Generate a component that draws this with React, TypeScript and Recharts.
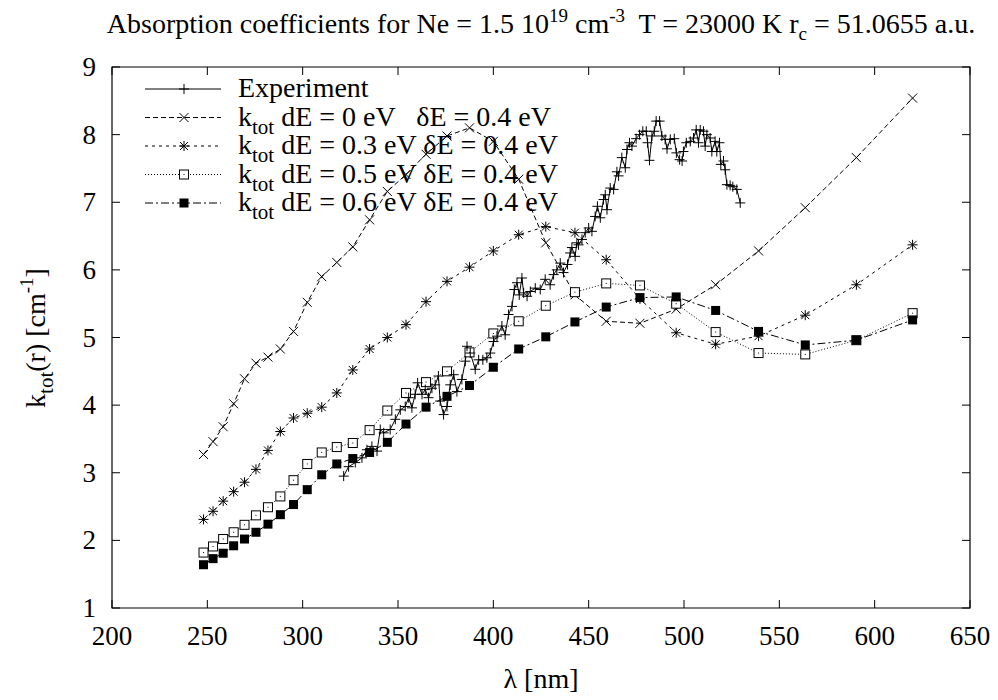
import { LineChart, Line, XAxis, YAxis, ReferenceArea } from "recharts";

// model wavelengths (nm) – same grid for every k_tot curve
const lambdaModel = [248.0, 253.0, 258.3, 263.8, 269.5, 275.5, 281.8, 288.3, 295.2, 302.4, 310.0, 317.9, 326.3, 335.1, 344.4, 354.2, 364.7, 375.7, 387.5, 400.0, 413.3, 427.5, 442.8, 459.2, 476.9, 495.9, 516.6, 539.1, 563.6, 590.4, 619.9];

const kDE00 = [3.27, 3.46, 3.68, 4.02, 4.39, 4.62, 4.71, 4.83, 5.09, 5.52, 5.90, 6.11, 6.34, 6.74, 7.16, 7.41, 7.71, 7.98, 8.10, 7.90, 7.34, 6.40, 5.63, 5.24, 5.21, 5.42, 5.78, 6.28, 6.92, 7.66, 8.54];
const kDE03 = [2.31, 2.43, 2.58, 2.72, 2.86, 3.05, 3.33, 3.61, 3.81, 3.88, 3.97, 4.18, 4.52, 4.83, 5.00, 5.19, 5.53, 5.83, 6.04, 6.28, 6.52, 6.64, 6.55, 6.15, 5.57, 5.07, 4.90, 5.02, 5.33, 5.78, 6.37];
const kDE05 = [1.82, 1.91, 2.02, 2.12, 2.23, 2.37, 2.49, 2.65, 2.89, 3.13, 3.30, 3.38, 3.44, 3.63, 3.92, 4.18, 4.34, 4.50, 4.78, 5.06, 5.24, 5.47, 5.67, 5.80, 5.77, 5.50, 5.08, 4.77, 4.75, 4.96, 5.36];
const kDE06 = [1.64, 1.73, 1.81, 1.92, 2.02, 2.12, 2.24, 2.38, 2.53, 2.75, 2.97, 3.13, 3.21, 3.30, 3.45, 3.72, 3.97, 4.13, 4.29, 4.56, 4.83, 5.01, 5.23, 5.45, 5.59, 5.60, 5.40, 5.09, 4.89, 4.96, 5.26];

// experiment
const lambdaExp = [321.5, 324.1, 327.6, 331.1, 333.7, 336.3, 339.0, 340.7, 342.5, 345.9, 348.6, 351.2, 353.8, 355.6, 357.3, 359.0, 360.3, 362.6, 364.3, 366.0, 367.8, 369.5, 371.2, 372.1, 373.9, 375.7, 377.4, 379.2, 380.9, 383.5, 385.3, 386.2, 387.9, 390.5, 392.3, 394.5, 396.6, 398.4, 400.1, 401.9, 404.5, 406.2, 408.0, 409.8, 411.0, 412.4, 413.6, 415.0, 415.9, 417.7, 419.4, 422.0, 424.6, 427.2, 429.8, 431.6, 433.3, 435.1, 436.8, 438.9, 440.3, 441.2, 442.9, 443.8, 444.7, 446.5, 448.2, 450.0, 451.7, 453.4, 454.6, 456.1, 457.8, 458.7, 459.6, 461.3, 463.1, 464.8, 465.7, 467.4, 469.2, 470.1, 471.4, 472.7, 474.9, 476.7, 478.4, 480.2, 480.9, 481.9, 483.2, 484.4, 485.4, 487.2, 488.4, 490.1, 491.1, 492.8, 494.9, 496.0, 497.7, 499.0, 499.7, 501.2, 503.3, 505.0, 506.4, 507.6, 508.5, 510.2, 511.1, 512.0, 513.7, 514.6, 516.3, 517.2, 518.6, 519.3, 520.7, 521.6, 522.5, 524.2, 525.6, 527.7, 529.5];
const kExp = [2.95, 3.09, 3.15, 3.22, 3.34, 3.39, 3.32, 3.64, 3.59, 3.64, 3.79, 3.93, 3.98, 4.11, 3.96, 4.16, 4.33, 4.16, 4.23, 4.11, 4.25, 4.30, 4.43, 4.06, 3.86, 3.98, 4.30, 4.45, 4.20, 4.38, 4.65, 4.87, 4.77, 4.53, 4.67, 4.67, 4.70, 4.77, 4.94, 5.02, 5.17, 5.04, 5.34, 5.46, 5.71, 5.81, 5.63, 5.88, 5.66, 5.61, 5.68, 5.73, 5.71, 5.86, 5.78, 5.93, 6.00, 6.10, 5.96, 6.08, 6.25, 6.33, 6.20, 6.40, 6.37, 6.45, 6.55, 6.62, 6.57, 6.79, 6.94, 6.77, 7.04, 7.11, 6.89, 7.21, 7.19, 7.45, 7.39, 7.66, 7.51, 7.78, 7.88, 7.83, 7.94, 8.00, 8.05, 8.05, 7.88, 7.62, 7.98, 8.05, 8.20, 8.20, 7.98, 7.93, 7.79, 7.93, 7.94, 7.73, 7.63, 7.61, 7.75, 7.88, 7.90, 7.95, 8.07, 7.88, 8.07, 8.05, 7.83, 8.00, 7.95, 7.75, 7.90, 7.75, 7.88, 7.56, 7.61, 7.48, 7.26, 7.25, 7.23, 7.19, 6.99];

const xTicks = [200, 250, 300, 350, 400, 450, 500, 550, 600, 650];
const yTicks = [1, 2, 3, 4, 5, 6, 7, 8, 9];

const W = 998;
const H = 700;
const LEFT = 112;
const RIGHT = 970;
const TOP = 67;
const BOTTOM = 608;
const FONT = "'Liberation Serif', 'Times New Roman', serif";
const INK = "#000";
const FS = 28;

const zip = (xs: number[], ys: number[]) => xs.map((x, i) => ({ x, y: ys[i] }));

const expData = zip(lambdaExp, kExp);
const de00Data = zip(lambdaModel, kDE00);
const de03Data = zip(lambdaModel, kDE03);
const de05Data = zip(lambdaModel, kDE05);
const de06Data = zip(lambdaModel, kDE06);

// point markers, gnuplot-like
function Plus({ cx, cy }: { cx: number; cy: number }) {
  return (
    <g stroke={INK} strokeWidth={1}>
      <line x1={cx - 5} x2={cx + 5} y1={cy} y2={cy} />
      <line x1={cx} x2={cx} y1={cy - 5} y2={cy + 5} />
    </g>
  );
}
function Cross({ cx, cy }: { cx: number; cy: number }) {
  return (
    <g stroke={INK} strokeWidth={1}>
      <line x1={cx - 4.5} x2={cx + 4.5} y1={cy - 4.5} y2={cy + 4.5} />
      <line x1={cx - 4.5} x2={cx + 4.5} y1={cy + 4.5} y2={cy - 4.5} />
    </g>
  );
}
function Star({ cx, cy }: { cx: number; cy: number }) {
  return (
    <g stroke={INK} strokeWidth={1}>
      <line x1={cx - 5} x2={cx + 5} y1={cy} y2={cy} />
      <line x1={cx} x2={cx} y1={cy - 5} y2={cy + 5} />
      <line x1={cx - 4} x2={cx + 4} y1={cy - 4} y2={cy + 4} />
      <line x1={cx - 4} x2={cx + 4} y1={cy + 4} y2={cy - 4} />
    </g>
  );
}
function OpenBox({ cx, cy }: { cx: number; cy: number }) {
  return (
    <g>
      <rect x={cx - 4.5} y={cy - 4.5} width={9} height={9} fill="#fff" stroke={INK} strokeWidth={1} />
      <rect x={cx - 0.5} y={cy - 0.5} width={1} height={1} fill={INK} />
    </g>
  );
}
function FilledBox({ cx, cy }: { cx: number; cy: number }) {
  return <rect x={cx - 4.5} y={cy - 4.5} width={9} height={9} fill={INK} />;
}

const markerDot = (M: any) => (p: any) =>
  <g key={`m-${p.index}`}>{p.cx != null && p.cy != null ? <M cx={p.cx} cy={p.cy} /> : null}</g>;

function XTick(p: any) {
  const x = p.x;
  return (
    <g>
      <line x1={x} x2={x} y1={BOTTOM} y2={BOTTOM - 8} stroke={INK} />
      <line x1={x} x2={x} y1={TOP} y2={TOP + 8} stroke={INK} />
      <text x={x} y={645} textAnchor="middle" fontFamily={FONT} fontSize={27} fill={INK}>
        {p.payload.value}
      </text>
    </g>
  );
}

function YTick(p: any) {
  const y = p.y;
  return (
    <g>
      <line x1={LEFT} x2={LEFT + 8} y1={y} y2={y} stroke={INK} />
      <line x1={RIGHT} x2={RIGHT - 8} y1={y} y2={y} stroke={INK} />
      <text x={96} y={y + 9} textAnchor="end" fontFamily={FONT} fontSize={27} fill={INK}>
        {p.payload.value}
      </text>
    </g>
  );
}

const legendRows = [
  { main: "Experiment", sub: false, dash: undefined, M: Plus },
  { main: " dE = 0 eV   δE = 0.4 eV", sub: true, dash: "5 3", M: Cross },
  { main: " dE = 0.3 eV δE = 0.4 eV", sub: true, dash: "3 4", M: Star },
  { main: " dE = 0.5 eV δE = 0.4 eV", sub: true, dash: "1 2", M: OpenBox },
  { main: " dE = 0.6 eV δE = 0.4 eV", sub: true, dash: "8 3 2 3", M: FilledBox },
];

function Overlay() {
  return (
    <svg width={W} height={H} style={{ position: "absolute", left: 0, top: 0, pointerEvents: "none" }}>
      <text x={541} y={33} textAnchor="middle" fontFamily={FONT} fontSize={FS} fill={INK} style={{ whiteSpace: "pre" }}>
        Absorption coefficients for Ne = 1.5 10
        <tspan fontSize={19} dy={-11}>19</tspan>
        <tspan dy={11}> cm</tspan>
        <tspan fontSize={19} dy={-11}>-3</tspan>
        <tspan dy={11}>{"  T = 23000 K r"}</tspan>
        <tspan fontSize={19} dy={7}>c</tspan>
        <tspan dy={-7}> = 51.0655 a.u.</tspan>
      </text>

      <text x={541} y={688} textAnchor="middle" fontFamily={FONT} fontSize={FS} fill={INK}>
        λ [nm]
      </text>

      <text transform="translate(45,338) rotate(-90)" textAnchor="middle" fontFamily={FONT} fontSize={FS} fill={INK}>
        k<tspan fontSize={21} dy={8}>tot</tspan>
        <tspan dy={-8}>(r) [cm</tspan>
        <tspan fontSize={19} dy={-12}>-1</tspan>
        <tspan dy={12}>]</tspan>
      </text>

      {legendRows.map((r, i) => {
        const cy = 89 + i * 28.5;
        const M = r.M;
        return (
          <g key={i}>
            <line x1={145} x2={221} y1={cy} y2={cy} stroke={INK} strokeDasharray={r.dash} />
            <M cx={184} cy={cy} />
            <text x={238} y={cy + 8} fontFamily={FONT} fontSize={FS} fill={INK} style={{ whiteSpace: "pre" }}>
              {r.sub ? (
                <>
                  k<tspan fontSize={21} dy={8}>tot</tspan>
                  <tspan dy={-8}>{r.main}</tspan>
                </>
              ) : (
                r.main
              )}
            </text>
          </g>
        );
      })}
    </svg>
  );
}

export default function App() {
  return (
    <div style={{ position: "absolute", left: 0, top: 0, width: W, height: H, background: "#fff" }}>
      <LineChart width={W} height={H} margin={{ top: TOP, right: W - RIGHT, bottom: 0, left: 0 }}>
        <XAxis
          type="number"
          dataKey="x"
          domain={[200, 650]}
          ticks={xTicks}
          height={H - BOTTOM}
          axisLine={false}
          tickLine={false}
          tick={XTick}
          allowDataOverflow
        />
        <YAxis
          type="number"
          dataKey="y"
          domain={[1, 9]}
          ticks={yTicks}
          width={LEFT}
          axisLine={false}
          tickLine={false}
          tick={YTick}
          allowDataOverflow
        />
        <ReferenceArea x1={200} x2={650} y1={1} y2={9} fill="none" stroke={INK} strokeWidth={1.2} ifOverflow="visible" />
        <Line data={de00Data} dataKey="y" type="linear" stroke={INK} strokeWidth={1} strokeDasharray="5 3" dot={markerDot(Cross)} activeDot={false} isAnimationActive={false} />
        <Line data={de03Data} dataKey="y" type="linear" stroke={INK} strokeWidth={1} strokeDasharray="3 4" dot={markerDot(Star)} activeDot={false} isAnimationActive={false} />
        <Line data={de05Data} dataKey="y" type="linear" stroke={INK} strokeWidth={1} strokeDasharray="1 2" dot={markerDot(OpenBox)} activeDot={false} isAnimationActive={false} />
        <Line data={de06Data} dataKey="y" type="linear" stroke={INK} strokeWidth={1} strokeDasharray="8 3 2 3" dot={markerDot(FilledBox)} activeDot={false} isAnimationActive={false} />
        <Line data={expData} dataKey="y" type="linear" stroke={INK} strokeWidth={1} dot={markerDot(Plus)} activeDot={false} isAnimationActive={false} />
      </LineChart>
      <Overlay />
    </div>
  );
}
